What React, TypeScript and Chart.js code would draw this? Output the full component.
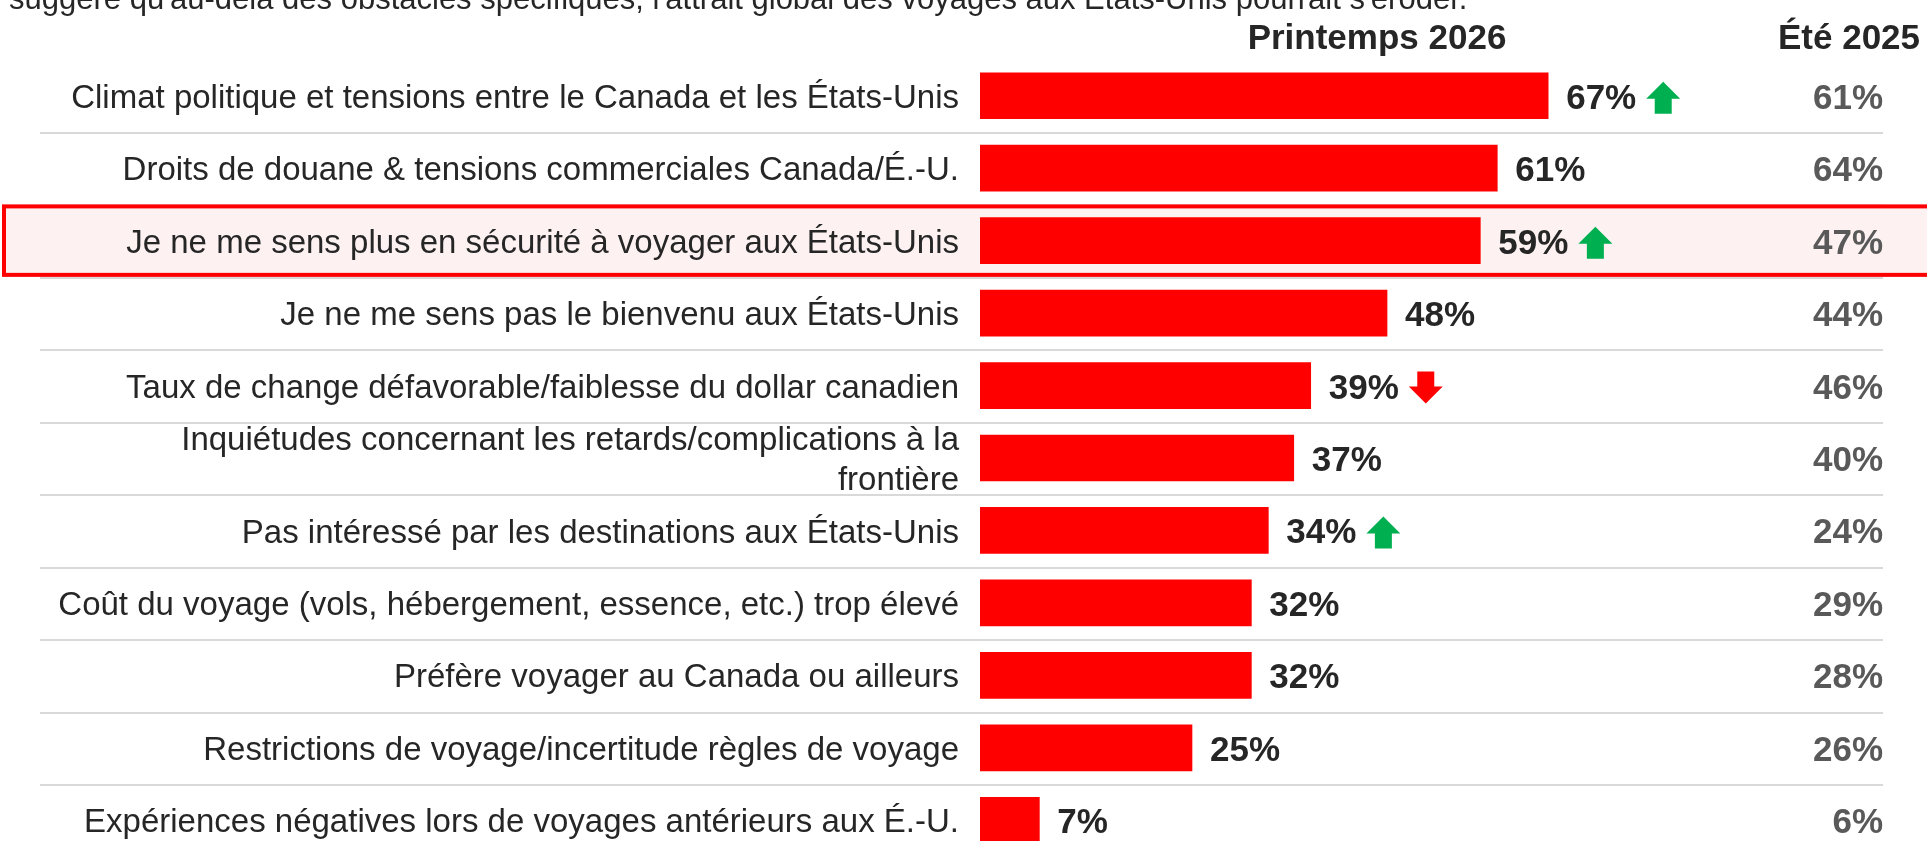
import React, { useEffect, useRef } from "react";
import { Chart, registerables } from "chart.js";

Chart.register(...registerables);

const subtitle =
  "suggère qu'au-delà des obstacles spécifiques, l'attrait global des voyages aux États-Unis pourrait s'éroder.";
const headerCurrent = "Printemps 2026";
const headerPrevious = "Été 2025";

const categories: (string | string[])[] = [
  "Climat politique et tensions entre le Canada et les États-Unis",
  "Droits de douane & tensions commerciales Canada/É.-U.",
  "Je ne me sens plus en sécurité à voyager aux États-Unis",
  "Je ne me sens pas le bienvenu aux États-Unis",
  "Taux de change défavorable/faiblesse du dollar canadien",
  ["Inquiétudes concernant les retards/complications à la", "frontière"],
  "Pas intéressé par les destinations aux États-Unis",
  "Coût du voyage (vols, hébergement, essence, etc.) trop élevé",
  "Préfère voyager au Canada ou ailleurs",
  "Restrictions de voyage/incertitude règles de voyage",
  "Expériences négatives lors de voyages antérieurs aux É.-U.",
];

const spring2026 = [67, 61, 59, 48, 39, 37, 34, 32, 32, 25, 7];
const summer2025 = [61, 64, 47, 44, 46, 40, 24, 29, 28, 26, 6];
const trend = ["up", "", "up", "", "down", "", "up", "", "", "", ""];
const highlightIndex = 2;

const FONT = "'Liberation Sans', Arial, sans-serif";
const W = 1927;
const H = 870;

function drawArrow(ctx: CanvasRenderingContext2D, x: number, cy: number, dir: string) {
  const w = 34, h = 32, headH = 17, shaftW = 17;
  ctx.save();
  ctx.fillStyle = dir === "up" ? "#00B050" : "#FF0000";
  ctx.beginPath();
  if (dir === "up") {
    const top = cy - h / 2;
    ctx.moveTo(x + w / 2, top);
    ctx.lineTo(x + w, top + headH);
    ctx.lineTo(x + w / 2 + shaftW / 2, top + headH);
    ctx.lineTo(x + w / 2 + shaftW / 2, top + h);
    ctx.lineTo(x + w / 2 - shaftW / 2, top + h);
    ctx.lineTo(x + w / 2 - shaftW / 2, top + headH);
    ctx.lineTo(x, top + headH);
  } else {
    const bot = cy + h / 2;
    ctx.moveTo(x + w / 2, bot);
    ctx.lineTo(x + w, bot - headH);
    ctx.lineTo(x + w / 2 + shaftW / 2, bot - headH);
    ctx.lineTo(x + w / 2 + shaftW / 2, bot - h);
    ctx.lineTo(x + w / 2 - shaftW / 2, bot - h);
    ctx.lineTo(x + w / 2 - shaftW / 2, bot - headH);
    ctx.lineTo(x, bot - headH);
  }
  ctx.closePath();
  ctx.fill();
  ctx.restore();
}

const overlay = {
  id: "overlay",
  beforeDraw(chart: any) {
    const { ctx } = chart;
    const y = chart.scales.y;
    ctx.save();
    ctx.strokeStyle = "#D9D9D9";
    ctx.lineWidth = 2;
    for (let i = 0; i < categories.length - 1; i++) {
      const py = Math.round(y.getPixelForValue(i + 0.5)) + 1;
      ctx.beginPath();
      ctx.moveTo(40, py);
      ctx.lineTo(1883, py);
      ctx.stroke();
    }
    const t = y.getPixelForValue(highlightIndex - 0.5);
    const b = y.getPixelForValue(highlightIndex + 0.5);
    ctx.fillStyle = "#FDF1F1";
    ctx.fillRect(2, t, chart.width, b - t);
    ctx.strokeStyle = "#FF0000";
    ctx.lineWidth = 4;
    ctx.strokeRect(4, t + 2, chart.width + 20, b - t - 4);
    ctx.restore();
  },
  afterDraw(chart: any) {
    const { ctx } = chart;
    const x = chart.scales.x;
    const y = chart.scales.y;
    ctx.save();
    ctx.textBaseline = "alphabetic";
    ctx.font = `bold 35px ${FONT}`;
    spring2026.forEach((v, i) => {
      const cy = y.getPixelForValue(i);
      const lx = x.getPixelForValue(v) + 18;
      const txt = `${v}%`;
      ctx.fillStyle = "#262626";
      ctx.textAlign = "left";
      ctx.fillText(txt, lx, cy + 13);
      if (trend[i]) {
        const tw = ctx.measureText(txt).width;
        drawArrow(ctx, lx + tw + 10, cy + 2, trend[i]);
      }
      ctx.fillStyle = "#595959";
      ctx.textAlign = "right";
      ctx.fillText(`${summer2025[i]}%`, 1883, cy + 13);
    });
    ctx.fillStyle = "#262626";
    ctx.textAlign = "center";
    ctx.fillText(headerCurrent, 1377, 49);
    ctx.fillText(headerPrevious, 1849, 49);
    ctx.font = `31px ${FONT}`;
    ctx.textAlign = "left";
    ctx.fillText(subtitle, 9, 9);
    ctx.restore();
  },
};

export default function App() {
  const ref = useRef<HTMLCanvasElement | null>(null);
  useEffect(() => {
    document.body.style.margin = "0";
    const canvas = ref.current!;
    const chart = new Chart(canvas, {
      type: "bar",
      data: {
        labels: categories as any,
        datasets: [
          {
            data: spring2026,
            backgroundColor: "#FF0000",
            borderWidth: 0,
            barThickness: 46,
          },
        ],
      },
      options: {
        indexAxis: "y",
        responsive: false,
        animation: false,
        devicePixelRatio: 1,
        layout: { padding: { top: 59.5, bottom: 13.5, left: 0, right: 99 } },
        plugins: { legend: { display: false }, tooltip: { enabled: false } },
        scales: {
          x: { display: false, min: 0, max: 100 },
          y: {
            grid: { display: false, drawTicks: false },
            border: { display: false },
            ticks: {
              padding: 21,
              color: "#262626",
              autoSkip: false,
              labelOffset: 3,
              font: { family: FONT, size: 33 },
            },
            afterFit(s: any) {
              s.width = 980;
              s.paddingTop = 0;
              s.paddingBottom = 0;
            },
          },
        },
      } as any,
      plugins: [overlay],
    });
    return () => chart.destroy();
  }, []);
  return (
    <div
      style={{
        position: "fixed",
        left: 0,
        top: 0,
        width: W,
        height: 841,
        overflow: "hidden",
        background: "#fff",
      }}
    >
      <canvas ref={ref} width={W} height={H} style={{ display: "block", width: W, height: H }} />
    </div>
  );
}
